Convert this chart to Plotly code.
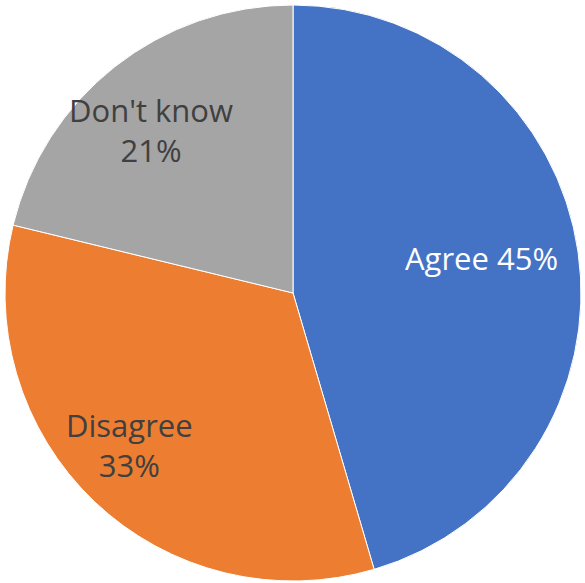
import plotly.graph_objects as go

labels = ["Agree", "Disagree", "Don't know"]
values = [45, 33, 21]
colors = ["#4472C4", "#ED7D31", "#A5A5A5"]
text_colors = ["#FFFFFF", "#404040", "#404040"]
display_text = ["Agree 45%", "Disagree<br>33%", "Don't know<br>21%"]

W, H = 585, 583
# label anchor positions in pixels (layout only)
label_px = [(483, 256), (127, 445), (149, 127)]

fig = go.Figure(go.Pie(
    labels=labels,
    values=values,
    textinfo="none",
    sort=False,
    direction="clockwise",
    rotation=0,
    marker=dict(colors=colors, line=dict(color="#FFFFFF", width=1)),
    showlegend=False,
    hoverinfo="label+value",
))
for txt, col, (px, py) in zip(display_text, text_colors, label_px):
    fig.add_annotation(
        x=px / W, y=1 - py / H, xref="paper", yref="paper",
        text=txt, showarrow=False, xanchor="center", yanchor="middle",
        font=dict(family="Open Sans, Liberation Sans, sans-serif", size=31, color=col),
    )
fig.update_layout(
    width=W, height=H,
    margin=dict(l=4, r=3, t=5, b=2),
    paper_bgcolor="white",
)
fig.write_html(
    "out.html",
    config={"displayModeBar": False},
    post_script="document.body.style.margin='0';document.body.style.padding='0';",
)
